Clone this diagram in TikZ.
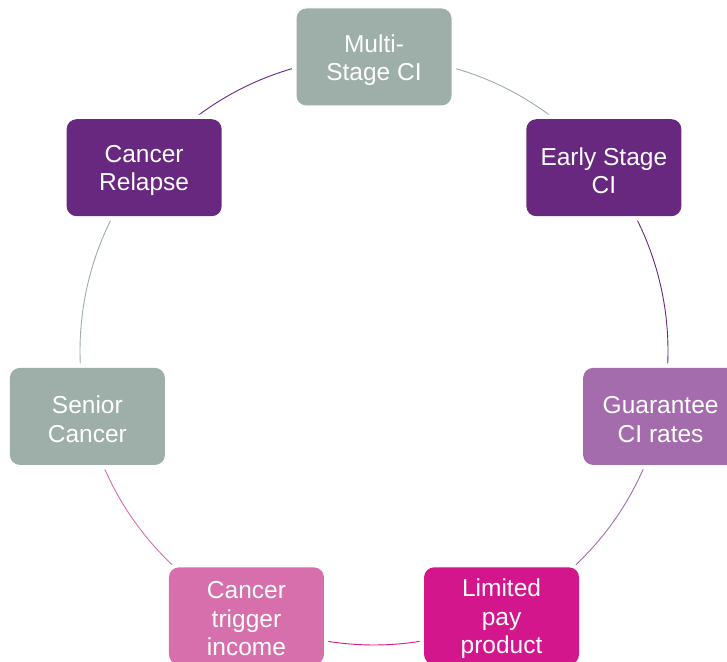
\documentclass[tikz,border=0pt]{standalone}
\usepackage{fontspec}
\setmainfont{Liberation Sans}
\usetikzlibrary{backgrounds}
\definecolor{cgray}{HTML}{9EAEA9}
\definecolor{cpurple}{HTML}{68287F}
\definecolor{clilac}{HTML}{A46CAC}
\definecolor{cmagenta}{HTML}{D3168C}
\definecolor{cpink}{HTML}{D76FAC}
\begin{document}
\begin{tikzpicture}[x=1pt,y=1pt,
  box/.style={fill=#1, rounded corners=10pt, minimum width=155pt, minimum height=97pt,
    inner sep=0pt, preaction={draw=white, line width=9pt}},
  lab/.style={align=center, text=white, font=\fontsize{24.5}{28.5}\selectfont, yshift=-3pt, inner sep=0pt},
  link/.style={draw=#1, line width=0.9pt}]
\useasboundingbox (0,0) rectangle (727,661);
\clip (0,0) rectangle (727,661);
\coordinate (c) at (374,310);
\path (c) ++(90:294) node[box=cgray, label={[lab]center:{Multi-\\Stage CI}}] (n1) {};
\path (c) ++(38.571:294) node[box=cpurple, label={[lab]center:{Early Stage\\CI}}] (n2) {};
\path (c) ++(-12.857:294) node[box=clilac, label={[lab]center:{Guarantee\\CI rates}}] (n3) {};
\path (c) ++(-64.286:294) node[box=cmagenta, label={[lab]center:{Limited\\pay\\product}}] (n4) {};
\path (c) ++(-115.714:294) node[box=cpink, label={[lab]center:{Cancer\\trigger\\income}}] (n5) {};
\path (c) ++(-167.143:294) node[box=cgray, label={[lab]center:{Senior\\Cancer}}] (n6) {};
\path (c) ++(141.429:294) node[box=cpurple, label={[lab]center:{Cancer\\Relapse}}] (n7) {};
\begin{pgfonlayer}{background}
\fill[white] (0,0) rectangle (727,661);
\draw[link=cgray] (n1.center) arc[start angle=90, end angle=38.571, radius=294];
\draw[link=cpurple] (n2.center) arc[start angle=38.571, end angle=-12.857, radius=294];
\draw[link=clilac] (n3.center) arc[start angle=-12.857, end angle=-64.286, radius=294];
\draw[link=cmagenta] (n4.center) arc[start angle=-64.286, end angle=-115.714, radius=294];
\draw[link=cpink] (n5.center) arc[start angle=-115.714, end angle=-167.143, radius=294];
\draw[link=cgray] (n6.center) arc[start angle=-167.143, end angle=-218.571, radius=294];
\draw[link=cpurple] (n7.center) arc[start angle=141.429, end angle=90, radius=294];
\end{pgfonlayer}
\end{tikzpicture}
\end{document}
